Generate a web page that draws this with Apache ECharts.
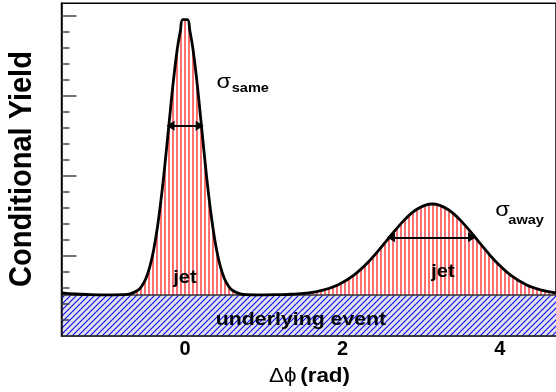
<!DOCTYPE html>
<html>
<head>
<meta charset="utf-8">
<script src="https://cdn.jsdelivr.net/npm/echarts@6/dist/echarts.min.js"></script>
<style>
  html, body { margin: 0; padding: 0; background: #fff; }
  #chart { width: 556px; height: 392px; }
</style>
</head>
<body>
<div id="chart"></div>
<script>
// Δφ sample points (rad) and the conditional yield (jet peaks on top of the flat background)
const phi = [-1.571, -1.4, -1.2, -1.0, -0.9, -0.8, -0.7, -0.6, -0.55, -0.5, -0.45, -0.4, -0.35, -0.3,
  -0.25, -0.2, -0.15, -0.1, -0.06, -0.03, 0.03, 0.06, 0.1, 0.15, 0.2, 0.25, 0.3, 0.35, 0.4, 0.45,
  0.5, 0.55, 0.6, 0.7, 0.8, 0.9, 1.0, 1.2, 1.34, 1.54, 1.74, 1.94, 2.14, 2.34, 2.54, 2.74, 2.94,
  3.14, 3.34, 3.54, 3.74, 3.94, 4.14, 4.34, 4.54, 4.712];
const yieldVals = [0.536, 0.521, 0.514, 0.511, 0.511, 0.513, 0.523, 0.568, 0.621, 0.712, 0.856, 1.071,
  1.368, 1.750, 2.204, 2.696, 3.175, 3.581, 3.812, 3.950, 3.950, 3.812, 3.581, 3.175, 2.696, 2.204,
  1.750, 1.368, 1.071, 0.856, 0.712, 0.621, 0.568, 0.523, 0.512, 0.511, 0.511, 0.514, 0.518, 0.532,
  0.566, 0.634, 0.754, 0.934, 1.163, 1.398, 1.578, 1.646, 1.578, 1.398, 1.163, 0.934, 0.754, 0.634,
  0.566, 0.536];

// flat underlying-event level
const ueLevel = 0.51;

// peak width markers (centre, half span, height)
const widthCentres = [0, 3.13];
const widthHalfSpans = [0.185, 0.515];
const widthLevels = [2.625, 1.23];

// axes
const phiMin = -Math.PI / 2;
const phiMax = 3 * Math.PI / 2;
const xTickLabels = [0, 2, 4];
const yMax = 4.155;
const yMajorTicks = [1, 2, 3, 4];
const yMinorTicks = [0.2, 0.4, 0.6, 0.8, 1.2, 1.4, 1.6, 1.8, 2.2, 2.4, 2.6, 2.8, 3.2, 3.4, 3.6, 3.8];

const FONT = '"Liberation Sans", Arial, Helvetica, sans-serif';
const STRETCH = 1.12;

// vertical red stripes for the jet area
function stripePattern() {
  const c = document.createElement('canvas');
  c.width = 4; c.height = 4;
  const g = c.getContext('2d');
  g.fillStyle = '#ff7070';
  g.fillRect(0, 0, 2, 4);
  return c;
}

// blue diagonal hatching on light grey for the background band
function hatchPattern() {
  const c = document.createElement('canvas');
  c.width = 6; c.height = 6;
  const g = c.getContext('2d');
  g.fillStyle = '#e2e2ea';
  g.fillRect(0, 0, 6, 6);
  g.strokeStyle = '#0a0aff';
  g.lineWidth = 1.1;
  g.beginPath();
  g.moveTo(0, 6); g.lineTo(6, 0);
  g.moveTo(-1, 1); g.lineTo(1, -1);
  g.moveTo(5, 7); g.lineTo(7, 5);
  g.stroke();
  return c;
}

function label(text, x, y, size, weight, align, extra) {
  return Object.assign({
    type: 'text', x: x, y: y, scaleX: STRETCH, z: 20,
    style: {
      text: text, fill: '#000',
      font: weight + ' ' + size + 'px ' + FONT,
      align: align, verticalAlign: 'middle',
      textAlign: align, textVerticalAlign: 'middle'
    }
  }, extra || {});
}

const curveData = phi.map((p, i) => [p, yieldVals[i]]);

const chart = echarts.init(document.getElementById('chart'), null, { renderer: 'canvas' });

chart.setOption({
  animation: false,
  backgroundColor: '#fff',
  grid: {
    left: 61.5, top: 3.3, width: 499.5, height: 332.4,
    show: true, borderColor: '#000', borderWidth: 1.5, backgroundColor: 'transparent'
  },
  xAxis: {
    type: 'value', min: phiMin, max: phiMax, z: 10,
    axisLine: { show: true, onZero: false, lineStyle: { color: '#222', width: 1.5 } },
    axisTick: { show: false },
    splitLine: { show: false },
    axisLabel: {
      customValues: xTickLabels, margin: 4, color: '#000',
      fontSize: 20, fontWeight: 'bold', fontFamily: FONT
    }
  },
  yAxis: [
    {
      type: 'value', min: 0, max: yMax, z: 10,
      axisLine: { show: true, onZero: false, lineStyle: { color: '#000', width: 1.5 } },
      axisTick: { show: true, inside: true, length: 15, customValues: yMajorTicks,
        lineStyle: { color: '#444', width: 1.5 } },
      axisLabel: { show: false },
      splitLine: { show: false }
    },
    {
      type: 'value', min: 0, max: yMax, position: 'left', offset: 0, z: 10,
      axisLine: { show: false, onZero: false },
      axisTick: { show: true, inside: true, length: 8, customValues: yMinorTicks,
        lineStyle: { color: '#444', width: 1.5 } },
      axisLabel: { show: false },
      splitLine: { show: false }
    }
  ],
  series: [
    {
      // striped jet area between the curve and the background level
      name: 'jet area',
      type: 'line',
      data: curveData,
      symbol: 'none',
      smooth: 0.4,
      z: 1,
      lineStyle: { width: 0, opacity: 0 },
      areaStyle: { color: { image: stripePattern(), repeat: 'repeat' }, opacity: 1, origin: ueLevel }
    },
    {
      name: 'underlying event',
      type: 'line',
      data: [[phiMin, ueLevel], [phiMax, ueLevel]],
      symbol: 'none',
      z: 2,
      lineStyle: { color: '#333', width: 1.5 },
      areaStyle: { color: { image: hatchPattern(), repeat: 'repeat' }, opacity: 1, origin: 'start' }
    },
    {
      name: 'jet',
      type: 'line',
      data: curveData,
      symbol: 'none',
      smooth: 0.4,
      z: 4,
      lineStyle: { color: '#000', width: 2.8, join: 'round' },
      markLine: {
        silent: true,
        symbol: ['triangle', 'triangle'],
        symbolSize: [10, 8],
        label: { show: false },
        lineStyle: { color: '#000', width: 2, type: 'solid' },
        data: widthCentres.map((c, i) => [
          { coord: [c - widthHalfSpans[i], widthLevels[i]] },
          { coord: [c + widthHalfSpans[i], widthLevels[i]] }
        ])
      }
    }
  ],
  graphic: [
    label('Conditional Yield', 22.3, 169, 29, 'bold', 'center',
      { rotation: Math.PI / 2, scaleX: 1, scaleY: 1.1 }),
    label('σ', 223.7, 82.4, 21, 'normal', 'center'),
    label('same', 231.7, 88.8, 13, 'bold', 'left'),
    label('σ', 502.5, 210.4, 21, 'normal', 'center'),
    label('away', 508.3, 220.5, 13, 'bold', 'left'),
    label('jet', 185, 278, 18, 'bold', 'center'),
    label('jet', 443, 272, 18, 'bold', 'center'),
    label('underlying event', 301, 319.4, 19, 'bold', 'center'),
    {
      type: 'text', x: 309.5, y: 376.6, scaleX: STRETCH, z: 20,
      style: {
        text: '{g|Δϕ} {b|(rad)}',
        align: 'center', verticalAlign: 'middle', textAlign: 'center', textVerticalAlign: 'middle',
        rich: {
          g: { fontSize: 20, fontWeight: 'normal', fontFamily: FONT, fill: '#000', color: '#000' },
          b: { fontSize: 20, fontWeight: 'bold', fontFamily: FONT, fill: '#000', color: '#000' }
        }
      }
    }
  ]
});
</script>
</body>
</html>
